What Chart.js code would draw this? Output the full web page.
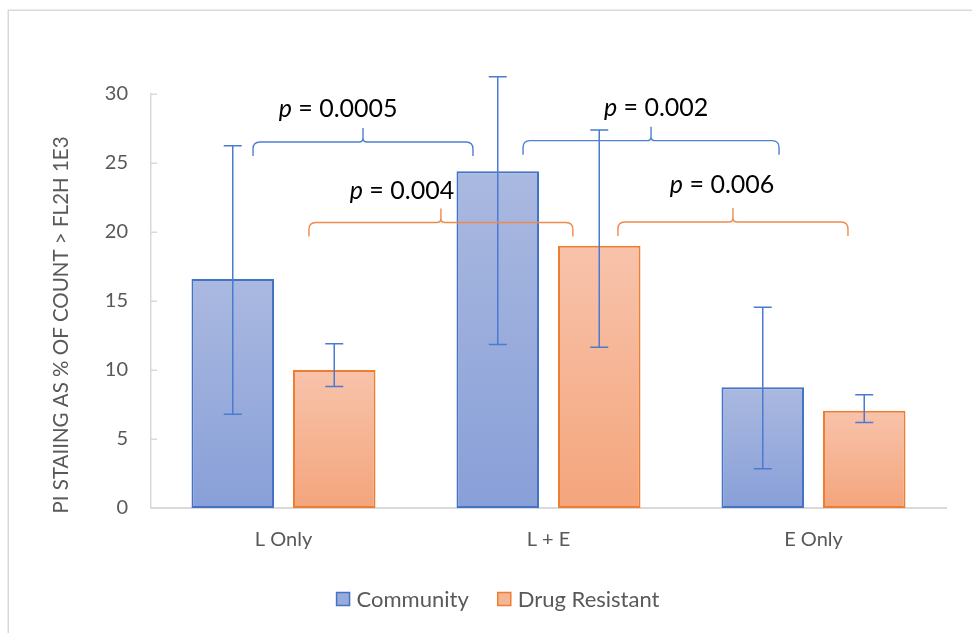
<!DOCTYPE html>
<html>
<head>
<meta charset="utf-8">
<script src="https://cdn.jsdelivr.net/npm/chart.js@4"></script>
<style>
  html, body { margin: 0; padding: 0; background: #ffffff; }
  #wrap { position: relative; width: 972px; height: 633px; overflow: hidden; }
</style>
</head>
<body>
<div id="wrap"><canvas id="c" width="972" height="633"></canvas></div>
<script>
// ---- data ----
const categories = ['L Only', 'L + E', 'E Only'];
const seriesNames = ['Community', 'Drug Resistant'];
const communityValues = [16.6, 24.4, 8.75];
const communityErrPlus = [9.65, 6.85, 5.8];
const communityErrMinus = [9.8, 12.55, 5.9];
const resistantValues = [10.0, 19.0, 7.05];
const resistantErrPlus = [1.9, 8.4, 1.15];
const resistantErrMinus = [1.2, 7.35, 0.85];
const yTickValues = [0, 5, 10, 15, 20, 25, 30];
const axisTitle = 'PI STAIING AS % OF COUNT > FL2H 1E3';

// significance brackets (span in category units, level in value units)
const pValues = ['0.0005', '0.002', '0.004', '0.006'];
const bracketFrom = [-0.115, 0.904, 0.096, 1.262];
const bracketTo = [0.715, 1.870, 1.092, 2.130];
const bracketLevel = [26.52, 26.62, 20.69, 20.72];
const labelAt = [0.206, 1.406, 0.447, 1.655];
const labelLevel = [28.33, 28.4, 22.39, 22.83];
const bracketSeries = [0, 0, 1, 1];

// ---- styles ----
const FONT = 'Lato, Carlito, "Open Sans", sans-serif';
const TEXT = '#595959';
const AXIS = '#D9D9D9';
const BLUE = '#4472C4';
const ORANGE = '#ED7D31';
const ERR = '#4A7BD0';
const BRACE = ['#4F7FD2', '#F08A4B'];
const SWATCH = ['#97ABDC', '#F6B593'];

function gradientFill(top, bottom, mid) {
  return function (ctx) {
    const chart = ctx.chart;
    const y = chart.scales && chart.scales.y;
    if (ctx.type !== 'data' || !y) return mid;
    const y0 = y.getPixelForValue(0);
    const y1 = y.getPixelForValue(ctx.raw);
    if (!isFinite(y0) || !isFinite(y1) || y0 === y1) return mid;
    const g = chart.ctx.createLinearGradient(0, y1, 0, y0);
    g.addColorStop(0, top);
    g.addColorStop(1, bottom);
    return g;
  };
}

const errPlus = [communityErrPlus, resistantErrPlus];
const errMinus = [communityErrMinus, resistantErrMinus];

const framePlugin = {
  id: 'frame',
  beforeDraw(chart) {
    const ctx = chart.ctx;
    ctx.save();
    ctx.fillStyle = '#ffffff';
    ctx.fillRect(0, 0, chart.width, chart.height);
    ctx.strokeStyle = AXIS;
    ctx.lineWidth = 1.5;
    ctx.strokeRect(8.25, 10.25, 2000, 2000);
    ctx.restore();
  }
};

const errorBarPlugin = {
  id: 'errorBars',
  afterDatasetsDraw(chart) {
    const ctx = chart.ctx;
    const y = chart.scales.y;
    ctx.save();
    ctx.strokeStyle = ERR;
    ctx.lineWidth = 1.5;
    chart.data.datasets.forEach((ds, i) => {
      const meta = chart.getDatasetMeta(i);
      meta.data.forEach((bar, j) => {
        const v = ds.data[j];
        const top = y.getPixelForValue(v + errPlus[i][j]);
        const bot = y.getPixelForValue(v - errMinus[i][j]);
        const x = bar.x;
        const cap = 9;
        ctx.beginPath();
        ctx.moveTo(x, top); ctx.lineTo(x, bot);
        ctx.moveTo(x - cap, top); ctx.lineTo(x + cap, top);
        ctx.moveTo(x - cap, bot); ctx.lineTo(x + cap, bot);
        ctx.stroke();
      });
    });
    ctx.restore();
  }
};

function drawBrace(ctx, x1, x2, yl) {
  const drop = 14, rise = 14, r = 7, rc = 4;
  const xm = (x1 + x2) / 2;
  ctx.beginPath();
  ctx.moveTo(x1, yl + drop);
  ctx.lineTo(x1, yl + r);
  ctx.quadraticCurveTo(x1, yl, x1 + r, yl);
  ctx.lineTo(xm - rc, yl);
  ctx.quadraticCurveTo(xm, yl, xm, yl - rc);
  ctx.lineTo(xm, yl - rise);
  ctx.moveTo(xm, yl - rc);
  ctx.quadraticCurveTo(xm, yl, xm + rc, yl);
  ctx.lineTo(x2 - r, yl);
  ctx.quadraticCurveTo(x2, yl, x2, yl + r);
  ctx.lineTo(x2, yl + drop);
  ctx.stroke();
}

const annotationPlugin = {
  id: 'annotations',
  afterDraw(chart) {
    const ctx = chart.ctx;
    const xs = chart.scales.x, ys = chart.scales.y;
    const area = chart.chartArea;
    ctx.save();

    // inward tick marks on the value axis
    ctx.strokeStyle = AXIS;
    ctx.lineWidth = 1.5;
    yTickValues.forEach(v => {
      const py = Math.round(ys.getPixelForValue(v)) + 0.25;
      ctx.beginPath();
      ctx.moveTo(area.left, py);
      ctx.lineTo(area.left + 6, py);
      ctx.stroke();
    });

    // value axis title
    ctx.save();
    ctx.translate(61, (area.top + area.bottom) / 2 + 24);
    ctx.rotate(-Math.PI / 2);
    ctx.fillStyle = TEXT;
    ctx.font = '20.5px ' + FONT;
    ctx.textAlign = 'center';
    ctx.textBaseline = 'middle';
    ctx.fillText(axisTitle, 0, 0);
    ctx.restore();

    // legend below the category axis
    ctx.font = '22px ' + FONT;
    const box = 13, gap = 7, itemGap = 29;
    const widths = seriesNames.map(n => ctx.measureText(n).width);
    const total = widths.reduce((s, w) => s + box + gap + w, 0) + itemGap * (seriesNames.length - 1);
    let lx = chart.width / 2 + 12 - total / 2;
    const ly = area.bottom + 91;
    const borders = [BLUE, ORANGE];
    seriesNames.forEach((n, i) => {
      ctx.fillStyle = SWATCH[i];
      ctx.fillRect(lx, ly - box / 2, box, box);
      ctx.strokeStyle = borders[i];
      ctx.lineWidth = 1.5;
      ctx.strokeRect(lx, ly - box / 2, box, box);
      ctx.fillStyle = TEXT;
      ctx.textAlign = 'left';
      ctx.textBaseline = 'middle';
      ctx.fillText(n, lx + box + gap, ly + 1);
      lx += box + gap + widths[i] + itemGap;
    });

    // comparison braces and p-values
    ctx.lineWidth = 1.4;
    pValues.forEach((p, k) => {
      ctx.strokeStyle = BRACE[bracketSeries[k]];
      drawBrace(ctx,
        xs.getPixelForValue(bracketFrom[k]),
        xs.getPixelForValue(bracketTo[k]),
        ys.getPixelForValue(bracketLevel[k]));

      const italic = 'italic 25px ' + FONT;
      const normal = '25px ' + FONT;
      const rest = ' = ' + p;
      ctx.font = italic;
      const w1 = ctx.measureText('p').width;
      ctx.font = normal;
      const w2 = ctx.measureText(rest).width;
      const cx = xs.getPixelForValue(labelAt[k]);
      const by = ys.getPixelForValue(labelLevel[k]);
      const x0 = cx - (w1 + w2) / 2;
      ctx.fillStyle = '#000000';
      ctx.textAlign = 'left';
      ctx.textBaseline = 'alphabetic';
      ctx.font = italic;
      ctx.fillText('p', x0, by);
      ctx.font = normal;
      ctx.fillText(rest, x0 + w1, by);
    });
    ctx.restore();
  }
};

new Chart(document.getElementById('c'), {
  type: 'bar',
  data: {
    labels: categories,
    datasets: [
      {
        label: seriesNames[0],
        data: communityValues,
        backgroundColor: gradientFill('#AAB9E0', '#889FD8', SWATCH[0]),
        borderColor: BLUE,
        borderWidth: 2,
        borderSkipped: false,
        categoryPercentage: 0.766,
        barPercentage: 0.813
      },
      {
        label: seriesNames[1],
        data: resistantValues,
        backgroundColor: gradientFill('#F8C3AB', '#F4A57C', SWATCH[1]),
        borderColor: ORANGE,
        borderWidth: 2,
        borderSkipped: false,
        categoryPercentage: 0.766,
        barPercentage: 0.813
      }
    ]
  },
  options: {
    responsive: false,
    animation: false,
    devicePixelRatio: 1,
    layout: { padding: { top: 94, right: 26, bottom: 55, left: 0 } },
    plugins: {
      legend: { display: false },
      tooltip: { enabled: false }
    },
    scales: {
      x: {
        z: 1,
        grid: { display: false, drawTicks: false },
        border: { display: true, color: AXIS, width: 2 },
        ticks: { color: TEXT, font: { family: FONT, size: 20 }, padding: 20 },
        afterFit(scale) { scale.height = 70; }
      },
      y: {
        min: 0,
        max: 30,
        grid: { display: false, drawTicks: false },
        border: { display: true, color: AXIS, width: 1.5 },
        ticks: {
          stepSize: 5,
          color: TEXT,
          font: { family: FONT, size: 20 },
          padding: 23
        },
        afterFit(scale) { scale.width = 151; }
      }
    }
  },
  plugins: [framePlugin, errorBarPlugin, annotationPlugin]
});
</script>
</body>
</html>
